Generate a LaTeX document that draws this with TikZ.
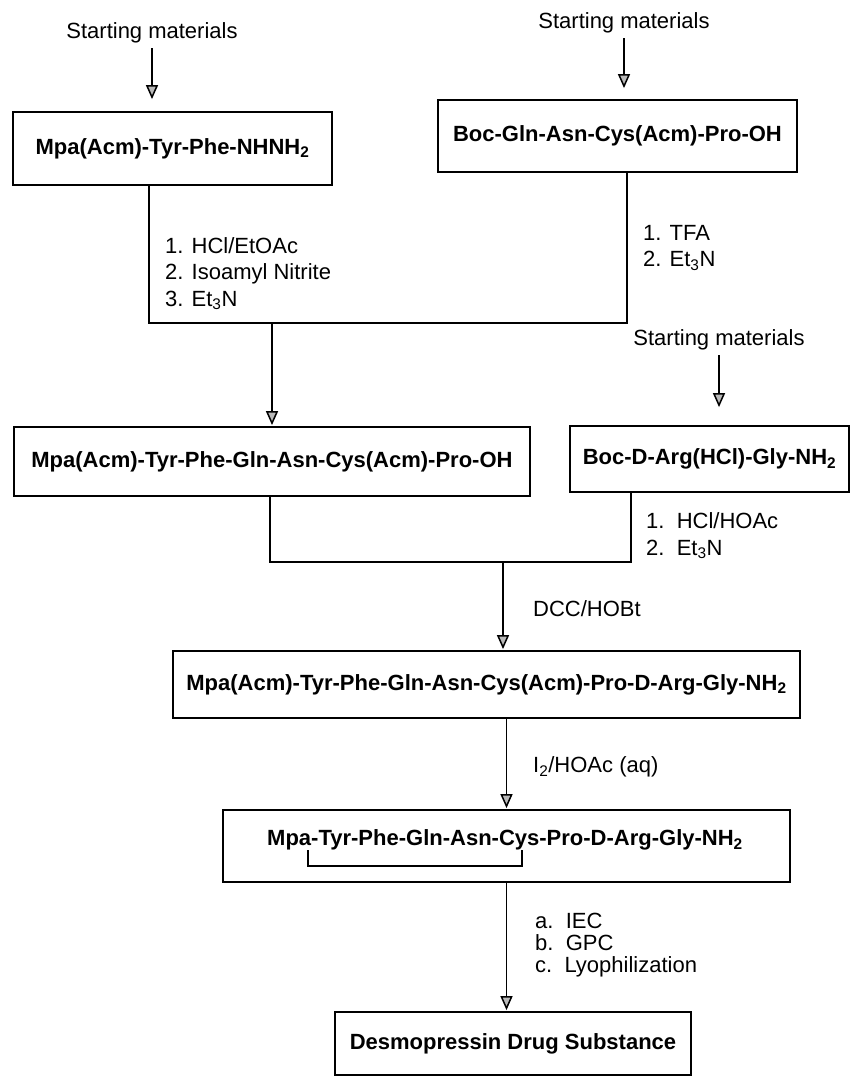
\documentclass[tikz,border=0pt]{standalone}
\usepackage{fontspec}
\setmainfont{Liberation Sans}
\usetikzlibrary{positioning,arrows.meta}

\begin{document}
\begin{tikzpicture}[x=1pt,y=-1pt,
  every node/.style={font=\fontsize{22}{26.5}\selectfont,inner sep=0pt},
  box/.style={draw,line width=1.8pt,font=\fontsize{22}{26.5}\selectfont\bfseries},
  lbl/.style={align=left,anchor=west},
  link/.style={line width=1.5pt},
  arr/.style={link,-{Triangle[fill=gray!55,length=14pt,width=12pt]}}]

\useasboundingbox (0,0) rectangle (851,1077);

\node(sm1) at (152,33) {Starting materials};
\node(sm2) at (624,23) {Starting materials};
\node(sm3) at (719,340) {Starting materials};

\node[box,minimum width=319pt,minimum height=73pt](box1) at (172.5,148.5) {Mpa(Acm)-Tyr-Phe-NHNH\textsubscript{2}};
\node[box,minimum width=359pt,minimum height=72pt](box2) at (617.5,136) {Boc-Gln-Asn-Cys(Acm)-Pro-OH};
\node[box,minimum width=516pt,minimum height=69pt](box3) at (272,461.5) {Mpa(Acm)-Tyr-Phe-Gln-Asn-Cys(Acm)-Pro-OH};
\node[box,minimum width=279pt,minimum height=66pt](box4) at (709.5,459) {Boc-D-Arg(HCl)-Gly-NH\textsubscript{2}};
\node[box,minimum width=627pt,minimum height=67pt](box5) at (486.5,684.5) {Mpa(Acm)-Tyr-Phe-Gln-Asn-Cys(Acm)-Pro-D-Arg-Gly-NH\textsubscript{2}};
\node[box,minimum width=567pt,minimum height=72pt](box6) at (506.5,846) {};
\node[font=\fontsize{22}{26.5}\selectfont\bfseries](pep6) at (505,840) {Mpa-Tyr-Phe-Gln-Asn-Cys-Pro-D-Arg-Gly-NH\textsubscript{2}};
\node[box,minimum width=356pt,minimum height=63pt](box7) at (513,1043.5) {Desmopressin Drug Substance};

% starting materials
\foreach \s/\b/\g in {sm1/box1/12,sm2/box2/11,sm3/box4/18}
	\draw[arr,shorten <=5pt,shorten >=\g pt](\s.south)--(\s.south |- \b.north);

% first coupling
\coordinate(m1l) at (149,323);
\coordinate(m1r) at (627,323);
\draw[link](box1.south -| m1l)--(m1l)--(m1r)--(box2.south -| m1r);
\node[lbl](c1) at (165,273.5) {1. HCl/EtOAc\\2. Isoamyl Nitrite\\3. Et\textsubscript{3}N};
\node[lbl](c2) at (643,248) {1. TFA\\2. Et\textsubscript{3}N};
\draw[arr,shorten >=1pt](box3.north |- m1l)--(box3.north);

% second coupling
\coordinate(m2l) at (270,562);
\coordinate(m2r) at (631,562);
\coordinate(m2a) at (503,562);
\draw[link](box3.south -| m2l)--(m2l)--(m2r)--(box4.south -| m2r);
\node[lbl](c3) at (646,536) {1.~~HCl/HOAc\\2.~~Et\textsubscript{3}N};
\draw[arr,shorten >=1pt](m2a)--(m2a |- box5.north);
\node[lbl](c4) at (533,609) {DCC/HOBt};

% cyclisation
\draw[arr,shorten >=1pt](box5.south -| box6.north)--(box6.north);
\node[lbl](c5) at (533,767) {I\textsubscript{2}/HOAc (aq)};
\coordinate(ssa) at (308,850);
\coordinate(ssb) at (522,850);
\draw[link](ssa)--++(0,16)-|(ssb);

% purification
\draw[arr,shorten >=1pt](box6.south)--(box6.south |- box7.north);
\node[lbl,font=\fontsize{22}{22}\selectfont](c6) at (535,945) {a.~~IEC\\b.~~GPC\\c.~~Lyophilization};

\end{tikzpicture}
\end{document}
